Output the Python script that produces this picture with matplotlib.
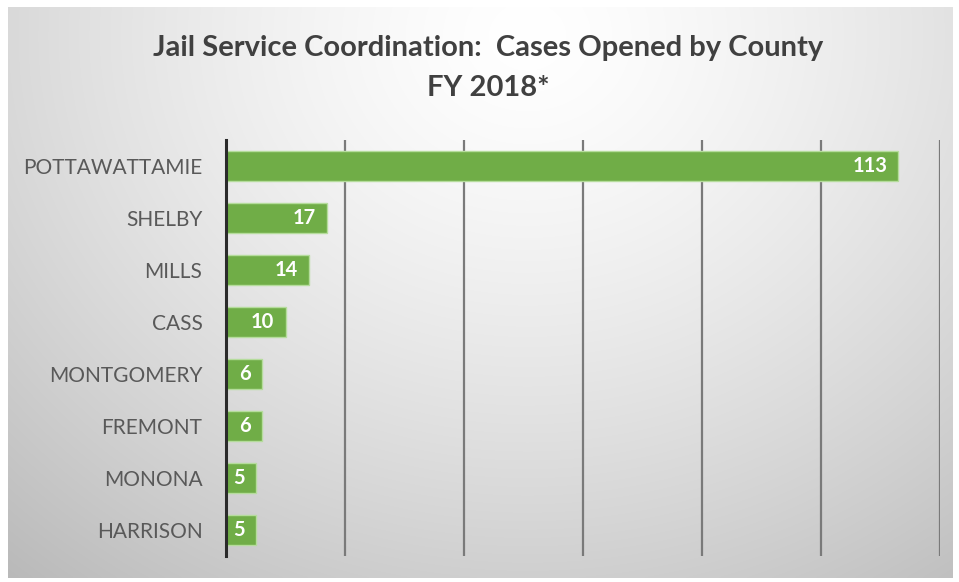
import numpy as np
import matplotlib
matplotlib.use("Agg")
import matplotlib.pyplot as plt

# data
counties = ["POTTAWATTAMIE", "SHELBY", "MILLS", "CASS",
            "MONTGOMERY", "FREMONT", "MONONA", "HARRISON"]
cases = [113, 17, 14, 10, 6, 6, 5, 5]
x_ticks = [0, 20, 40, 60, 80, 100, 120]

plt.rcParams['font.family'] = ['Lato', 'DejaVu Sans']

W, H = 959, 582
fig = plt.figure(figsize=(W / 100, H / 100), dpi=100, facecolor="white")

# radial grey background panel
bg = fig.add_axes([8 / W, 1 - 578 / H, (953 - 8) / W, (578 - 7) / H])
yy, xx = np.mgrid[0:1:300j, 0:1:500j]
r = np.sqrt(((xx - 0.55) / 0.75) ** 2 + ((yy - 0.05) / 1.1) ** 2)
shade = 1.0 - 0.23 * np.clip(r, 0, 1.2) ** 1.4
bg.imshow(np.dstack([shade] * 3), aspect="auto", extent=[0, 1, 1, 0],
          interpolation="bilinear")
bg.axis("off")

ax = fig.add_axes([226 / W, 1 - 556 / H, 714 / W, 416 / H])
ax.patch.set_alpha(0)

y = np.arange(len(counties))
ax.barh(y, cases, height=0.58, color="#70ad47", edgecolor="#b5dc9c",
        linewidth=1.0, zorder=3)

for yi, v in zip(y, cases):
    ax.annotate(str(v), (v, yi), xytext=(-8, 0), textcoords="offset points",
                ha="right", va="center", color="white", fontsize=14.5,
                fontweight="bold", zorder=4)

ax.set_xlim(0, 120)
ax.set_ylim(len(counties) - 0.5, -0.5)
ax.set_xticks(x_ticks)
ax.set_xticklabels([])
ax.tick_params(axis="x", length=0)
ax.grid(axis="x", color="#7a7a7a", linewidth=1.6, zorder=1)
ax.set_yticks(y)
ax.set_yticklabels(counties, color="#595959", fontsize=15)
ax.tick_params(axis="y", length=0, pad=17)
for side in ["top", "right", "bottom"]:
    ax.spines[side].set_visible(False)
ax.spines["left"].set_color("#2b2b2b")
ax.spines["left"].set_linewidth(2.2)
ax.spines["left"].set_zorder(5)

fig.text(488 / W, 1 - 48 / H, "Jail Service Coordination:  Cases Opened by County",
         ha="center", va="center", fontsize=21, fontweight="bold", color="#404040")
fig.text(488 / W, 1 - 88 / H, "FY 2018*",
         ha="center", va="center", fontsize=21, fontweight="bold", color="#404040")

fig.savefig("out.png", dpi=100)
